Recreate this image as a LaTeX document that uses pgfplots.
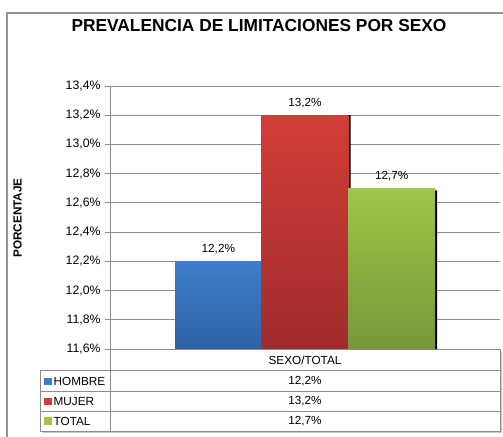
\documentclass[border=0pt]{standalone}
\usepackage{pgfplots}
\pgfplotsset{compat=1.18}
\usepackage{fontspec}
\setmainfont{Liberation Sans}
\definecolor{blueT}{HTML}{3D7ECC}
\definecolor{blueB}{HTML}{2E62A3}
\definecolor{redT}{HTML}{D33D38}
\definecolor{redB}{HTML}{A02C2C}
\definecolor{greenT}{HTML}{9EC647}
\definecolor{greenB}{HTML}{76973A}
\definecolor{gridg}{HTML}{8C8C8C}
\begin{document}
\begin{tikzpicture}[x=1bp,y=-1bp]
\useasboundingbox (0,0) rectangle (503,437);
% outer frame
\draw[gray!85, line width=1.2bp] (7,13) rectangle (515,450);
% title
\node[font=\bfseries\fontsize{17.4}{20}\selectfont] at (259,25.5) {PREVALENCIA DE LIMITACIONES POR SEXO};
% y label
\node[font=\bfseries\fontsize{11.8}{13}\selectfont, rotate=90] at (17.5,218) {PORCENTAJE};
\begin{axis}[
  at={(110bp,-349bp)}, anchor=south west,
  width=390bp, height=263bp, scale only axis,
  xmin=-2.25, xmax=2.25,
  ymin=11.6, ymax=13.4,
  ytick={11.6,11.8,12.0,12.2,12.4,12.6,12.8,13.0,13.2,13.4},
  yticklabel={\pgfmathprintnumber[fixed,fixed zerofill,precision=1,use comma]{\tick}\%},
  /pgf/number format/assume math mode=true,
  ticklabel style={font=\fontsize{12.3}{14}\selectfont},
  xtick=\empty,
  axis x line=none,
  axis y line*=left,
  y axis line style={gridg, line width=0.9bp, -},
  ytick style={gridg, line width=0.9bp},
  tick align=outside,
  major tick length=5bp,
  ymajorgrids,
  grid style={gridg, line width=0.9bp},
  yticklabel style={xshift=-1bp},
  clip=true,
  nodes near coords style={font=\fontsize{11.8}{13}\selectfont, yshift=3.5bp},
]
% shadows
\addplot[ybar, bar width=1, bar shift=0pt, fill=black, draw=none] coordinates {(-0.975,12.19) (0.025,13.2) (1.025,12.686)};
% bars
\addplot[ybar, bar width=1, bar shift=0pt, draw=none, top color=blueT, bottom color=blueB,
  nodes near coords={\pgfmathprintnumber[fixed,fixed zerofill,precision=1,use comma]{\pgfplotspointmeta}\%}]
  coordinates {(-1,12.2)};
\addplot[ybar, bar width=1, bar shift=0pt, draw=none, top color=redT, bottom color=redB,
  nodes near coords={\pgfmathprintnumber[fixed,fixed zerofill,precision=1,use comma]{\pgfplotspointmeta}\%}]
  coordinates {(0,13.2)};
\addplot[ybar, bar width=1, bar shift=0pt, draw=none, top color=greenT, bottom color=greenB,
  nodes near coords={\pgfmathprintnumber[fixed,fixed zerofill,precision=1,use comma]{\pgfplotspointmeta}\%}]
  coordinates {(1,12.7)};
\end{axis}
% data table
\fill[gray!45] (112.5,351.5) rectangle (502,372);
\fill[gray!45] (42.5,372) rectangle (502,433);
\fill[white] (110.5,349.5) rectangle (500,370.7);
\fill[white] (40.7,370.7) rectangle (500,431);
\draw[gridg, line width=0.9bp] (110.5,349.5) -- (500,349.5) -- (500,431) -- (40.7,431) -- (40.7,370.7) -- (500,370.7);
\draw[gridg, line width=0.9bp] (40.7,391.7) -- (500,391.7);
\draw[gridg, line width=0.9bp] (40.7,411.7) -- (500,411.7);
\draw[gridg, line width=0.9bp] (110.5,349.5) -- (110.5,431);
\begin{scope}[every node/.style={font=\fontsize{11.8}{13}\selectfont, inner sep=0pt}]
\node at (305,360.5) {SEXO/TOTAL};
\fill[blueT] (44,377.5) rectangle (51.5,385);
\fill[redT] (44,397.5) rectangle (51.5,405);
\fill[greenT] (44,417) rectangle (51.5,424.5);
\node[anchor=west] at (53.5,381) {HOMBRE};
\node[anchor=west] at (53.5,401.5) {MUJER};
\node[anchor=west] at (53.5,421) {TOTAL};
\node at (305,381) {12,2\%};
\node at (305,401.5) {13,2\%};
\node at (305,421) {12,7\%};
\end{scope}
\end{tikzpicture}
\end{document}
